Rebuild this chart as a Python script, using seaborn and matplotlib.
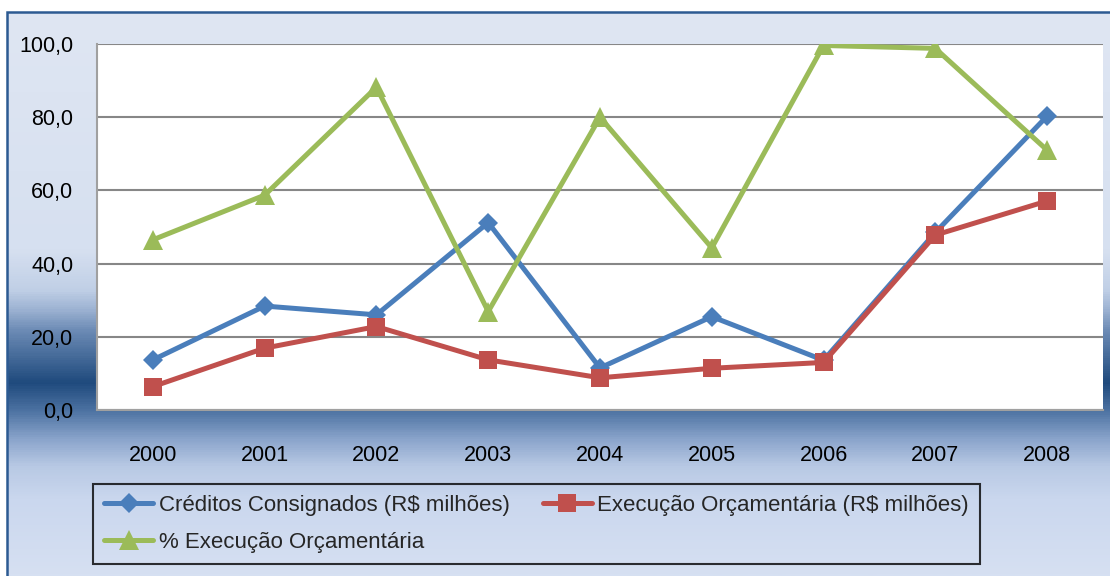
import numpy as np
import pandas as pd
import seaborn as sns
import matplotlib.pyplot as plt
from matplotlib.colors import LinearSegmentedColormap
from matplotlib.patches import Rectangle

# Dados
anos = [2000, 2001, 2002, 2003, 2004, 2005, 2006, 2007, 2008]
creditos = [13.7, 28.4, 26.0, 51.2, 11.5, 25.5, 13.6, 48.5, 80.3]
execucao = [6.4, 16.9, 22.8, 13.7, 8.8, 11.4, 13.0, 47.8, 57.1]
perc_execucao = [46.5, 58.7, 88.2, 26.9, 80.0, 44.3, 99.6, 98.8, 71.0]

series = ["Créditos Consignados (R$ milhões)",
          "Execução Orçamentária (R$ milhões)",
          "% Execução Orçamentária"]
cores = ["#4a7ebb", "#c0504d", "#9bbb59"]
marcadores = ["D", "s", "^"]
tam_marcador = [10.5, 13.5, 14]

data = pd.concat([
    pd.DataFrame({"ano": anos, "valor": creditos, "serie": series[0]}),
    pd.DataFrame({"ano": anos, "valor": execucao, "serie": series[1]}),
    pd.DataFrame({"ano": anos, "valor": perc_execucao, "serie": series[2]}),
])

sns.set_theme(style="white")
plt.rcParams['font.family'] = ['Liberation Sans', 'DejaVu Sans']

W, H = 1110, 576
fig = plt.figure(figsize=(W / 100, H / 100), dpi=100, facecolor="white")

# Fundo com degradê (estilo Excel)
bg = fig.add_axes([7 / W, 0, 1 - 7 / W, (H - 12) / H], zorder=0)
stops_px = [12, 250, 290, 310, 330, 383, 410, 440, 467, 500, 576]
stops_cor = ["#dfe6f3", "#d6e0f0", "#c0cfe6", "#9cb2d2", "#6d8cb6", "#1f4a7d",
             "#4a70a0", "#8aa4cb", "#b8c9e4", "#cad7ee", "#d6e0f2"]
pos = [(p - 12) / (H - 12) for p in stops_px]
cmap_bg = LinearSegmentedColormap.from_list("fundo", list(zip(pos, stops_cor)))
grad = np.linspace(0, 1, 600).reshape(-1, 1)
bg.imshow(grad, aspect="auto", cmap=cmap_bg, extent=[0, 1, 0, 1], origin="upper")
bg.set_xlim(0, 1)
bg.set_ylim(0, 1)
bg.axis("off")
fig.add_artist(Rectangle((7 / W, -0.01), 1.0, (H - 12) / H + 0.01, transform=fig.transFigure,
                         fill=False, edgecolor="#2c5a92", linewidth=1.8, zorder=1))

# Área do gráfico
ax = fig.add_axes([97 / W, (H - 410) / H, 1006 / W, 366 / H], zorder=2)
ax.set_facecolor("white")

sns.lineplot(data=data, x="ano", y="valor", hue="serie", style="serie",
             hue_order=series, style_order=series,
             palette=dict(zip(series, cores)),
             markers=dict(zip(series, marcadores)), dashes=False,
             linewidth=3.6, markeredgewidth=0, legend=False, ax=ax, zorder=3)

linhas = ax.get_lines()[:3]
for ln, ms, lb in zip(linhas, tam_marcador, series):
    ln.set_markersize(ms)
    ln.set_label(lb)

ax.set_xlim(1999.5, 2008.5)
ax.set_ylim(0, 100)
ax.set_xticks(anos)
ax.set_xticklabels([str(a) for a in anos])
ax.set_xticks(np.arange(1999.5, 2009, 1), minor=True)
ax.set_yticks([0, 20, 40, 60, 80, 100])
ax.set_yticklabels([f"{v:.1f}".replace(".", ",") for v in [0, 20, 40, 60, 80, 100]])
ax.set_xlabel("")
ax.set_ylabel("")

ax.grid(axis="y", color="#878787", linewidth=1.5, zorder=1)
ax.set_axisbelow(True)
for s in ["top", "right"]:
    ax.spines[s].set_visible(False)
for s in ["left", "bottom"]:
    ax.spines[s].set_color("#a0a0a0")
    ax.spines[s].set_linewidth(1.5)

ax.tick_params(axis="x", which="major", length=0, pad=25, labelsize=15.5, colors="black")
ax.tick_params(axis="x", which="minor", length=5, width=1.5, color="#a0a0a0", direction="out")
ax.tick_params(axis="y", length=5, width=1.5, color="#a0a0a0", direction="out",
               pad=12, labelsize=15.5, labelcolor="black")

# Legenda (ordem para preencher as colunas como no original)
ordem = [linhas[0], linhas[2], linhas[1]]
leg = fig.legend(handles=ordem, labels=[l.get_label() for l in ordem],
                 loc="upper left", bbox_to_anchor=(93 / W, 1 - 484 / H),
                 ncol=2, fontsize=16, frameon=True, fancybox=False,
                 handlelength=2.2, handletextpad=0.25, columnspacing=1.5,
                 labelspacing=0.7, borderpad=0.5, borderaxespad=0)
leg.get_frame().set_facecolor("none")
leg.get_frame().set_edgecolor("black")
leg.get_frame().set_linewidth(1.5)
leg.set_zorder(5)

fig.savefig("out.png", dpi=100)
